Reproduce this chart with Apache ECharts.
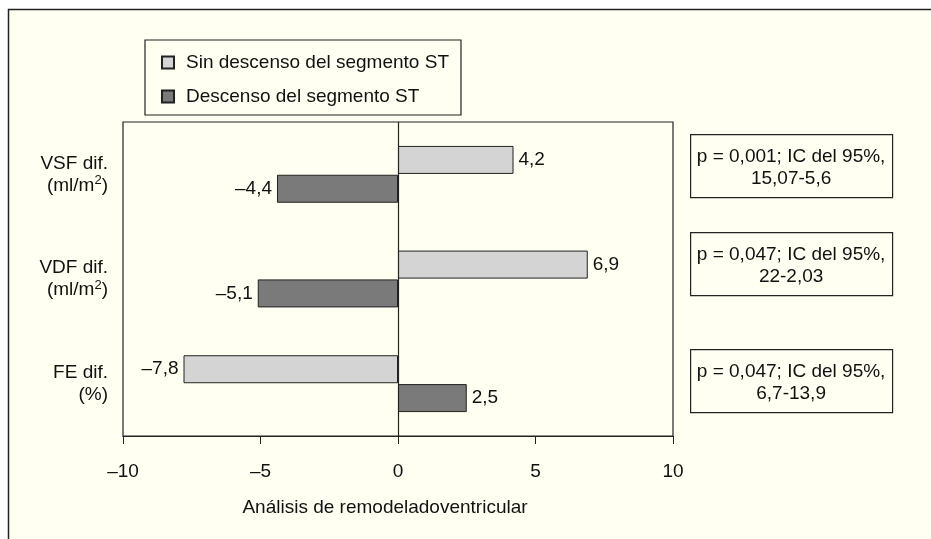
<!DOCTYPE html>
<html>
<head>
<meta charset="utf-8">
<script src="https://cdn.jsdelivr.net/npm/echarts@6/dist/echarts.min.js"></script>
<style>
  html, body { margin: 0; padding: 0; background: #fff; }
  #chart { width: 931px; height: 539px; }
</style>
</head>
<body>
<div id="chart"></div>
<script>
  var categories = ['VSF dif.\n(ml/m{sup|2})', 'VDF dif.\n(ml/m{sup|2})', 'FE dif.\n(%)']
  var sinDescenso = [4.2, 6.9, -7.8]
  var conDescenso = [-4.4, -5.1, 2.5]
  var seriesNames = ['Sin descenso del segmento ST', 'Descenso del segmento ST']
  var pTexts = [
    'p = 0,001; IC del 95%,\n15,07-5,6',
    'p = 0,047; IC del 95%,\n22-2,03',
    'p = 0,047; IC del 95%,\n6,7-13,9'
  ]
  var xTitle = 'Análisis de remodeladoventricular'

  var FONT = '"Liberation Sans", Arial, sans-serif'
  var FS = 19

  function fmt(v) {
    return String(v).replace('.', ',').replace('-', '–')
  }

  function toItems(arr) {
    return arr.map(function (v) {
      return {value: v, label: {position: v < 0 ? 'left' : 'right'}}
    })
  }

  var boxTops = [134, 232, 349]

  var chart = echarts.init(document.getElementById('chart'))
  chart.setOption({
    backgroundColor: '#fff',
    textStyle: {fontFamily: FONT},
    graphic: [
      {
        type: 'rect', z: -10, silent: true,
        shape: {x: 8.5, y: 9.5, width: 1000, height: 1000},
        style: {fill: '#FFFFF2', stroke: '#222', lineWidth: 1.5}
      },
      {
        type: 'text', x: 385, y: 508, silent: true,
        style: {text: xTitle, fill: '#111', font: FS + 'px ' + FONT,
          align: 'center', verticalAlign: 'middle'}
      }
    ].concat(pTexts.map(function (t, i) {
      return {
        type: 'group', left: 690, top: boxTops[i],
        children: [
          {type: 'rect', shape: {x: 0.5, y: 0.5, width: 202, height: 63},
            style: {fill: '#FFFFF2', stroke: '#222', lineWidth: 1.2}},
          {type: 'text', x: 101, y: 34,
            style: {text: t, fill: '#111', font: FS + 'px ' + FONT, align: 'center',
              verticalAlign: 'middle', lineHeight: 22}}
        ]
      }
    })),
    legend: {
      orient: 'vertical',
      left: 145,
      top: 40,
      padding: [13, 12, 9, 16],
      itemGap: 15,
      itemWidth: 12,
      itemHeight: 12,
      backgroundColor: '#FFFFF2',
      borderColor: '#222',
      borderWidth: 1.2,
      borderRadius: 0,
      icon: 'rect',
      textStyle: {fontSize: FS, color: '#111', fontFamily: FONT, padding: [0, 0, 0, 7]},
      data: seriesNames
    },
    grid: {
      left: 123,
      right: 258,
      top: 122,
      bottom: 103,
      show: true,
      borderColor: '#222',
      borderWidth: 1.2
    },
    xAxis: {
      type: 'value',
      min: -10,
      max: 10,
      interval: 5,
      splitLine: {show: false},
      axisLine: {show: true, lineStyle: {color: '#222', width: 1.2}},
      axisTick: {show: true, length: 8, inside: false, lineStyle: {color: '#222'}},
      axisLabel: {
        fontSize: FS, color: '#111', margin: 26, fontFamily: FONT,
        formatter: function (v) { return fmt(v) }
      }
    },
    yAxis: {
      type: 'category',
      inverse: true,
      data: categories,
      axisLine: {show: false, onZero: false},
      axisTick: {show: false},
      axisLabel: {
        fontSize: FS, color: '#111', margin: 15, lineHeight: 22,
        align: 'right', fontFamily: FONT,
        rich: {
          sup: {fontSize: 13, lineHeight: 22, padding: [0, 0, 9, 0], fontFamily: FONT, color: '#111'}
        }
      }
    },
    series: [
      {
        name: seriesNames[0],
        type: 'bar',
        data: toItems(sinDescenso),
        barWidth: 28,
        barGap: '3%',
        itemStyle: {color: '#D4D4D4', borderColor: '#222', borderWidth: 1},
        label: {
          show: true, fontSize: FS, color: '#111', distance: 5, fontFamily: FONT,
          formatter: function (p) { return fmt(p.value) }
        },
        markLine: {
          silent: true,
          symbol: 'none',
          label: {show: false},
          lineStyle: {color: '#222', type: 'solid', width: 1.2},
          data: [{xAxis: 0}]
        }
      },
      {
        name: seriesNames[1],
        type: 'bar',
        data: toItems(conDescenso),
        barWidth: 28,
        barGap: '3%',
        itemStyle: {color: '#7A7A7A', borderColor: '#222', borderWidth: 1},
        label: {
          show: true, fontSize: FS, color: '#111', distance: 5, fontFamily: FONT,
          formatter: function (p) { return fmt(p.value) }
        }
      }
    ]
  })
</script>
</body>
</html>
